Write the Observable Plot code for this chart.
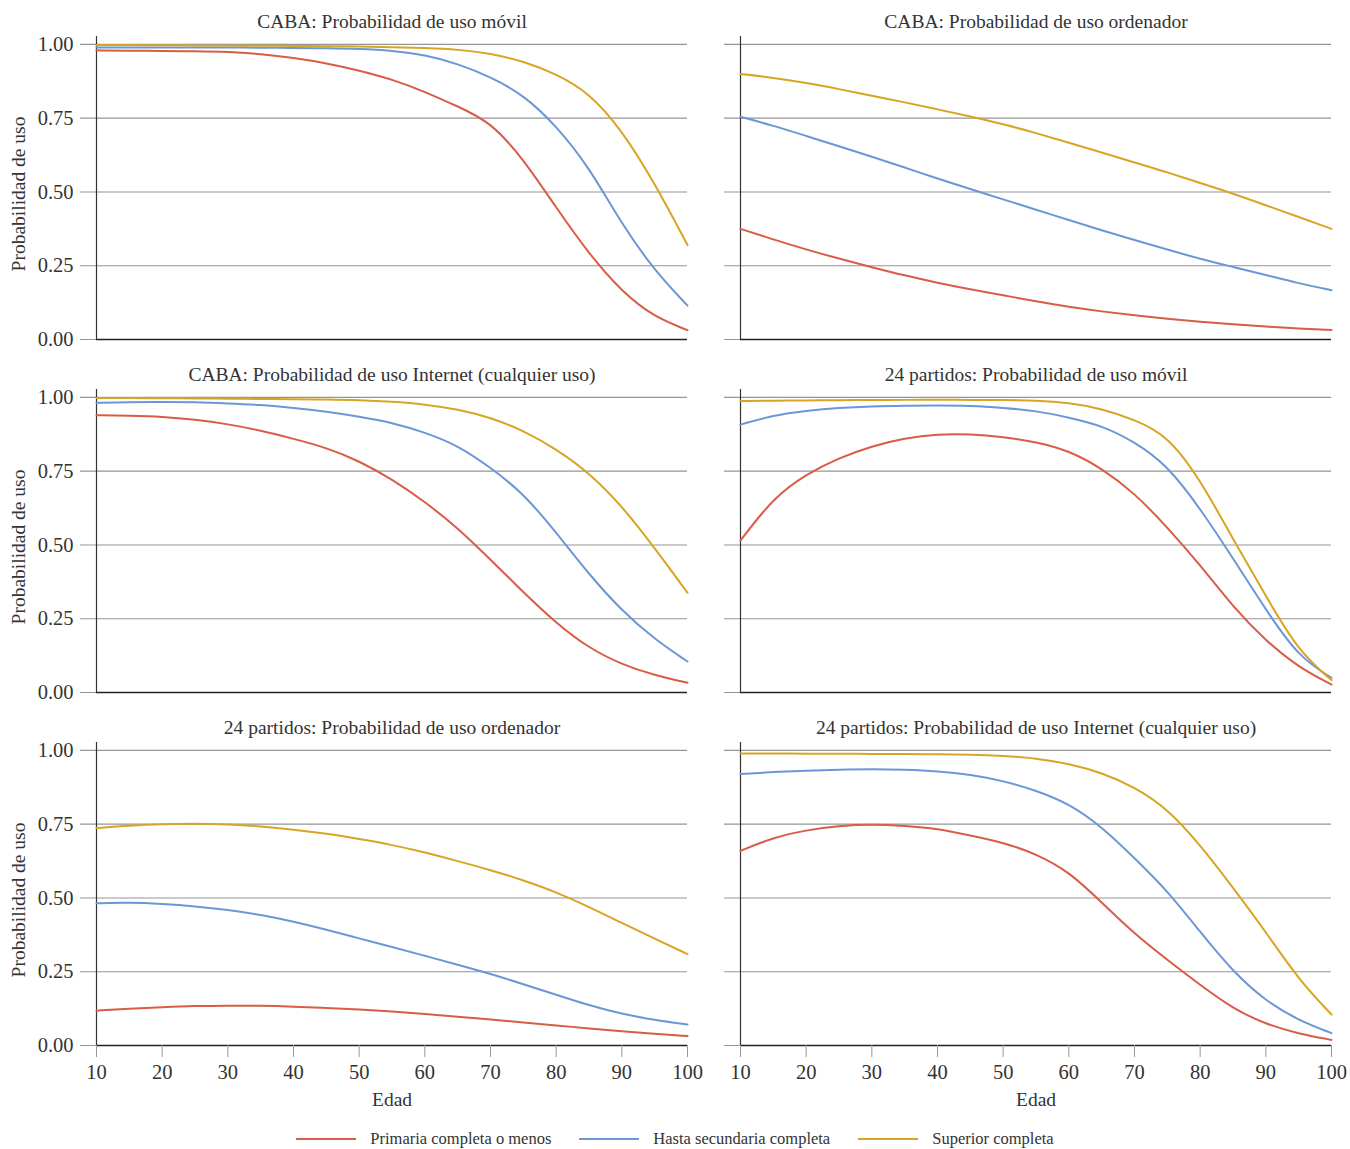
<!DOCTYPE html>
<html>
<head>
<meta charset="utf-8">
<script src="https://cdn.jsdelivr.net/npm/d3@7"></script>
<script src="https://cdn.jsdelivr.net/npm/@observablehq/plot@0.6"></script>
<style>
  html, body { margin: 0; padding: 0; background: #fff; }
  body { width: 1350px; font-family: "Liberation Serif", serif; color: #333; }
  #legend { display: flex; justify-content: center; align-items: center; gap: 28px; font-size: 16.5px; height: 30px; margin-top: 6px; }
  .item { display: flex; align-items: center; gap: 14px; }
  .swatch { width: 60px; height: 2px; }
</style>
</head>
<body>
<div id="chart"></div>
<div id="legend"></div>
<script>
// Categories
const series = ["Primaria completa o menos", "Hasta secundaria completa", "Superior completa"];
const colors = ["#d95c47", "#6b97d6", "#d8a523"];
const panelTitles = [
  "CABA: Probabilidad de uso móvil",
  "CABA: Probabilidad de uso ordenador",
  "CABA: Probabilidad de uso Internet (cualquier uso)",
  "24 partidos: Probabilidad de uso móvil",
  "24 partidos: Probabilidad de uso ordenador",
  "24 partidos: Probabilidad de uso Internet (cualquier uso)"
];
const ages = [10,15,20,25,30,35,40,45,50,55,60,65,70,75,80,85,90,95,100];
const xTicks = [10,20,30,40,50,60,70,80,90,100];
const yTicks = [0, 0.25, 0.5, 0.75, 1];

// CABA móvil
const cabaMovilPrimaria   = [.98,.979,.978,.977,.975,.968,.955,.937,.912,.882,.84,.79,.738,.612,.447,.29,.162,.075,.032];
const cabaMovilSecundaria = [.99,.99,.99,.99,.99,.989,.988,.987,.985,.979,.965,.935,.89,.83,.725,.585,.39,.233,.115];
const cabaMovilSuperior   = [.998,.998,.997,.997,.996,.996,.995,.994,.993,.991,.988,.983,.97,.943,.9,.837,.71,.53,.32];
// CABA ordenador
const cabaOrdPrimaria   = [.375,.339,.305,.274,.245,.217,.192,.17,.15,.129,.11,.095,.082,.07,.06,.051,.044,.037,.032];
const cabaOrdSecundaria = [.755,.725,.69,.655,.62,.583,.545,.51,.475,.44,.405,.37,.337,.305,.273,.246,.219,.19,.167];
const cabaOrdSuperior   = [.90,.887,.87,.849,.826,.804,.78,.756,.73,.70,.667,.634,.60,.567,.53,.495,.455,.415,.375];
// CABA Internet
const cabaNetPrimaria   = [.94,.938,.935,.925,.91,.888,.86,.83,.785,.723,.647,.558,.45,.34,.235,.15,.095,.058,.033];
const cabaNetSecundaria = [.982,.984,.985,.984,.98,.975,.965,.952,.935,.915,.882,.838,.763,.675,.543,.40,.277,.18,.105];
const cabaNetSuperior   = [.998,.998,.997,.997,.996,.995,.994,.993,.991,.986,.977,.96,.932,.888,.825,.745,.633,.49,.338];
// 24 partidos móvil
const gbaMovilPrimaria   = [.515,.66,.74,.795,.835,.862,.876,.876,.866,.85,.82,.76,.676,.56,.432,.29,.175,.085,.027];
const gbaMovilSecundaria = [.908,.94,.955,.965,.97,.972,.973,.972,.965,.955,.932,.905,.85,.77,.624,.455,.28,.12,.05];
const gbaMovilSuperior   = [.988,.989,.99,.991,.991,.992,.992,.992,.991,.99,.982,.962,.925,.872,.722,.52,.327,.138,.042];
// 24 partidos ordenador
const gbaOrdPrimaria   = [.118,.125,.13,.134,.135,.135,.132,.127,.122,.115,.107,.098,.088,.078,.068,.058,.048,.04,.032];
const gbaOrdSecundaria = [.482,.485,.48,.472,.46,.443,.42,.393,.363,.334,.304,.274,.243,.208,.172,.136,.107,.086,.071];
const gbaOrdSuperior   = [.737,.745,.75,.752,.75,.743,.732,.718,.70,.68,.655,.625,.595,.56,.52,.47,.415,.362,.31];
// 24 partidos Internet
const gbaNetPrimaria   = [.66,.705,.73,.745,.75,.745,.735,.712,.688,.65,.59,.485,.378,.29,.205,.125,.072,.04,.019];
const gbaNetSecundaria = [.92,.927,.932,.935,.937,.935,.93,.918,.897,.865,.82,.742,.635,.525,.385,.25,.15,.085,.042];
const gbaNetSuperior   = [.99,.99,.989,.989,.988,.988,.987,.986,.982,.974,.955,.925,.876,.803,.68,.535,.385,.223,.105];

const panels = [
  [cabaMovilPrimaria, cabaMovilSecundaria, cabaMovilSuperior],
  [cabaOrdPrimaria, cabaOrdSecundaria, cabaOrdSuperior],
  [cabaNetPrimaria, cabaNetSecundaria, cabaNetSuperior],
  [gbaMovilPrimaria, gbaMovilSecundaria, gbaMovilSuperior],
  [gbaOrdPrimaria, gbaOrdSecundaria, gbaOrdSuperior],
  [gbaNetPrimaria, gbaNetSecundaria, gbaNetSuperior]
];

const data = [];
panels.forEach((p, i) => p.forEach((vals, s) => vals.forEach((v, j) => {
  data.push({col: i % 2, row: Math.floor(i / 2), serie: series[s], age: ages[j], value: v});
})));
const titles = panelTitles.map((t, i) => ({col: i % 2, row: Math.floor(i / 2), text: t}));
const rows = [0, 1, 2].map(r => ({col: 0, row: r}));
const bottoms = [0, 1].map(c => ({col: c, row: 2}));
const facets = [0,1,2,3,4,5].map(i => ({col: i % 2, row: Math.floor(i / 2)}));

const FONT = "'Liberation Serif', serif";
const plot = Plot.plot({
  width: 1350,
  height: 1118,
  marginLeft: 96,
  marginRight: 19,
  marginTop: 35.5,
  marginBottom: 72,
  style: {fontFamily: FONT, fontSize: "19px", color: "#333", background: "#fff"},
  fx: {domain: [0, 1], paddingInner: 0.0823, paddingOuter: 0, axis: null},
  fy: {domain: [0, 1, 2], paddingInner: 0.1414, paddingOuter: 0, axis: null},
  x: {domain: [10, 100]},
  y: {domain: [0, 1.027]},
  color: {domain: series, range: colors},
  marks: [
    Plot.ruleY(facets.flatMap(f => yTicks.map(t => ({...f, t}))), {y: "t", fx: "col", fy: "row", stroke: "#959595", strokeWidth: 1.2, insetLeft: -16}),
    Plot.ruleY(facets, {y: () => 0, fx: "col", fy: "row", stroke: "#222", strokeWidth: 1.5}),
    Plot.ruleX(facets, {x: () => 10, y1: () => 0, y2: () => 1.027, fx: "col", fy: "row", stroke: "#333", strokeWidth: 1.2}),
    Plot.axisY({ticks: yTicks, tickFormat: d3.format(".2f"), tickSize: 0, tickPadding: 23, label: null, fontSize: 20.5, fill: "#333"}),
    Plot.axisX({ticks: xTicks, tickSize: 12, tickPadding: 7, stroke: "#999", label: null, fontSize: 20.5, fill: "#333"}),
    Plot.line(data, {x: "age", y: "value", z: "serie", stroke: "serie", fx: "col", fy: "row", curve: "basis", strokeWidth: 2}),
    Plot.text(titles, {fx: "col", fy: "row", text: "text", frameAnchor: "top", lineAnchor: "middle", textAnchor: "middle", dy: -15, fontSize: 19.5, fill: "#333"}),
    Plot.text(rows, {fx: "col", fy: "row", text: () => "Probabilidad de uso", frameAnchor: "left", textAnchor: "middle", rotate: -90, dx: -78, dy: 6, lineAnchor: "middle", fontSize: 19.5, fill: "#333"}),
    Plot.text(bottoms, {fx: "col", fy: "row", text: () => "Edad", frameAnchor: "bottom", textAnchor: "middle", lineAnchor: "middle", dy: 54, fontSize: 19.5, fill: "#333"})
  ]
});
document.getElementById("chart").appendChild(plot);

const legend = document.getElementById("legend");
series.forEach((s, i) => {
  const item = document.createElement("div");
  item.className = "item";
  const sw = document.createElement("span");
  sw.className = "swatch";
  sw.style.background = colors[i];
  const label = document.createElement("span");
  label.textContent = s;
  item.appendChild(sw);
  item.appendChild(label);
  legend.appendChild(item);
});
</script>
</body>
</html>
